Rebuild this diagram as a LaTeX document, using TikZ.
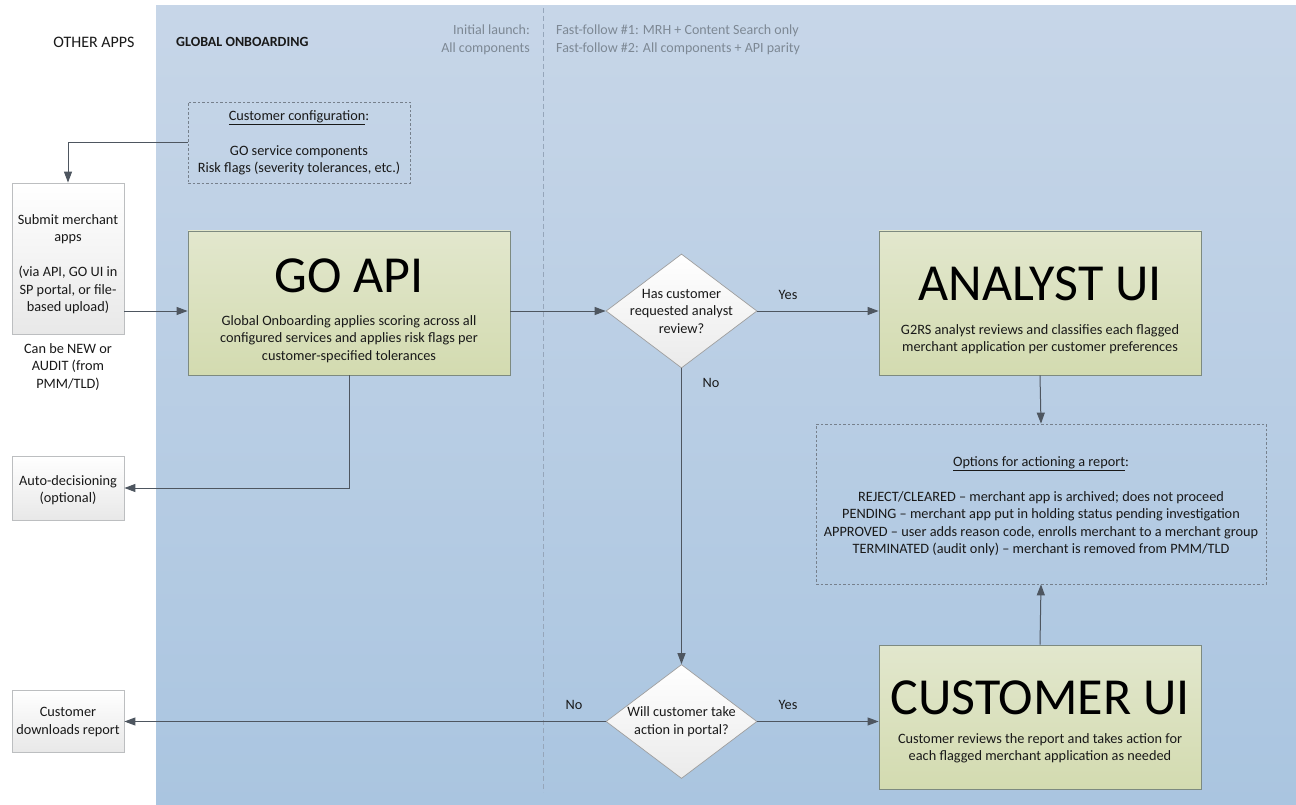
\documentclass[tikz,border=0pt]{standalone}
\usepackage{fontspec}
\setmainfont{Carlito}
\usetikzlibrary{arrows.meta,shapes.geometric}

\definecolor{bgtop}{RGB}{199,214,232}
\definecolor{bgbot}{RGB}{170,197,224}
\definecolor{hdrgray}{RGB}{125,136,148}
\definecolor{divline}{RGB}{150,166,186}
\definecolor{oltop}{RGB}{226,231,205}
\definecolor{olbot}{RGB}{211,219,176}
\definecolor{olborder}{RGB}{125,138,128}
\definecolor{grayborder}{RGB}{188,190,192}
\definecolor{connector}{RGB}{78,86,96}
\definecolor{dashgray}{RGB}{118,128,140}
\definecolor{textdark}{RGB}{25,25,25}

\tikzset{
  txt/.style={font=\fontsize{14.3}{17.5}\selectfont, text=textdark, align=center, inner sep=0pt},
  hdr/.style={font=\fontsize{14}{17.5}\selectfont, inner sep=0pt},
  bigbox/.style={draw=olborder, line width=0.8pt, top color=oltop, bottom color=olbot,
    minimum width=322pt, minimum height=144pt, inner sep=0pt},
  bigtitle/.style={font=\fontsize{52}{60}\selectfont, text=black, inner sep=0pt},
  sidebox/.style={draw=grayborder, line width=0.8pt, top color=white, bottom color=black!9,
    minimum width=112pt, inner sep=0pt, txt},
  notebox/.style={draw=dashgray, line width=0.7pt, dash pattern=on 2.5pt off 2pt, txt},
  decision/.style={diamond, draw=black!38, line width=0.7pt, top color=white, bottom color=black!8,
    minimum width=151pt, minimum height=114pt, inner sep=0pt},
  flow/.style={draw=connector, line width=1pt, -{Triangle[length=11pt,width=8pt]}},
}

\begin{document}
\begin{tikzpicture}[x=1pt,y=-1pt]
\useasboundingbox (0,0) rectangle (1296,805);
\fill[white] (0,0) rectangle (1296,805);

% swimlane background and phase divider
\shade[top color=bgtop, bottom color=bgbot] (156,6) rectangle (1296,805);
\draw[divline, line width=0.7pt, dash pattern=on 5pt off 3pt] (543,8) -- (543,792);

% lane headers
\node[hdr, text=textdark, font=\fontsize{16}{18}\selectfont] (lanea) at (94,42) {OTHER APPS};
\node[hdr, text=textdark, font=\fontsize{14}{17.5}\selectfont\bfseries, anchor=west] (laneb) at (176,42) {GLOBAL ONBOARDING};
\node[hdr, text=hdrgray, align=right, anchor=east] (phasea) at (530,40) {Initial launch:\\All components};
\node[hdr, text=hdrgray, align=left, anchor=west] (phaseb) at (556,40) {Fast-follow \#1: MRH + Content Search only\\Fast-follow \#2: All components + API parity};

% customer configuration note
\node[notebox, minimum width=222pt, minimum height=81pt] (config) at (299,142.5) {};
\node[txt] (configtext) at (299,143)
  {\underline{Customer configuration}:\\ \mbox{}\\ GO service components\\Risk flags (severity tolerances, etc.)};

% left lane boxes
\node[sidebox, minimum height=151pt] (submit) at (68,258.5) {};
\node[txt] (submittext) at (68,264)
  {Submit merchant\\apps\\ \mbox{}\\ (via API, GO UI in\\SP portal, or file-\\based upload)};
\node[txt, anchor=north] (submitnote) at (68,343) {Can be NEW or\\AUDIT (from\\PMM/TLD)};
\node[sidebox, minimum height=64pt] (auto) at (68,488) {};
\node[txt] (autotext) at (68,490) {Auto-decisioning\\(optional)};
\node[sidebox, minimum height=62pt] (download) at (68,721) {};
\node[txt] (downloadtext) at (68,722) {Customer\\downloads report};

% GO API
\node[bigbox] (goapi) at (349,303) {};
\node[bigtitle, anchor=base] (goapititle) at (349,292) {GO API};
\node[txt, anchor=north] (goapibody) at (349,315)
  {Global Onboarding applies scoring across all\\configured services and applies risk flags per\\customer-specified tolerances};

% ANALYST UI
\node[bigbox] (analyst) at (1040,303) {};
\node[bigtitle, anchor=base] (analysttitle) at (1040,300) {ANALYST UI};
\node[txt, anchor=north] (analystbody) at (1040,324)
  {G2RS analyst reviews and classifies each flagged\\merchant application per customer preferences};

% CUSTOMER UI
\node[bigbox] (custui) at (1040,717) {};
\node[bigtitle, anchor=base] (custuititle) at (1040,714) {CUSTOMER UI};
\node[txt, anchor=north] (custuibody) at (1040,733)
  {Customer reviews the report and takes action for\\each flagged merchant application as needed};

% actioning options note
\node[notebox, minimum width=450pt, minimum height=160pt] (options) at (1041,504) {};
\node[txt] (optionstext) at (1041,506)
  {\underline{Options for actioning a report}:\\ \mbox{}\\
   REJECT/CLEARED -- merchant app is archived; does not proceed\\
   PENDING -- merchant app put in holding status pending investigation\\
   APPROVED -- user adds reason code, enrolls merchant to a merchant group\\
   TERMINATED (audit only) -- merchant is removed from PMM/TLD};

% decisions
\node[decision, label={[txt]center:Has customer\\requested analyst\\review?}] (review) at (681.5,311) {};
\node[decision, label={[txt]center:Will customer take\\action in portal?}] (portal) at (681.5,721.5) {};

% connectors
\draw[flow] (config.west) -| (submit.north);
\draw[flow] (submit.east |- review.west) -- (goapi.west |- review.west);
\draw[flow] (goapi.south) |- (auto.east);
\draw[flow] (goapi.east |- review.west) -- (review.west);
\draw[flow] (review.east) -- (analyst.west |- review.east);
\node[txt] (yesa) at (788,295) {Yes};
\draw[flow] (review.south) -- (portal.north);
\node[txt] (noa) at (711,383) {No};
\draw[flow] (portal.west) -- (download.east |- portal.west);
\node[txt] (nob) at (574,705) {No};
\draw[flow] (portal.east) -- (custui.west |- portal.east);
\node[txt] (yesb) at (788,705) {Yes};
\draw[flow] (analyst.south) -- (options.north);
\draw[flow] (custui.north) -- (options.south);
\end{tikzpicture}
\end{document}
